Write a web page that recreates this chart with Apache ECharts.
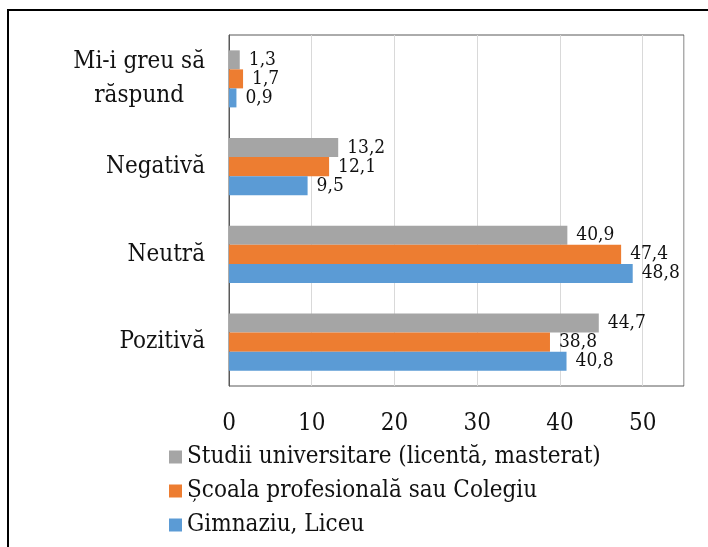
<!DOCTYPE html>
<html>
<head>
    <meta charset="UTF-8">
    <title>Atitudine</title>
    <script src="https://cdn.jsdelivr.net/npm/echarts@6/dist/echarts.min.js"></script>
    <style>
        html, body { margin: 0; padding: 0; background: #fff; }
        #main { width: 708px; height: 547px; }
    </style>
</head>
<body>
<div id="main"></div>
<script>
    // date
    var categories = ['Pozitivă', 'Neutră', 'Negativă', 'Mi-i greu să\nrăspund'];
    var seriesNames = ['Gimnaziu, Liceu', 'Școala profesională sau Colegiu', 'Studii universitare (licentă, masterat)'];
    var gimnaziu = [40.8, 48.8, 9.5, 0.9];
    var scoala = [38.8, 47.4, 12.1, 1.7];
    var studii = [44.7, 40.9, 13.2, 1.3];
    var colors = ['#5B9BD5', '#ED7D31', '#A5A5A5'];

    var font = '"DejaVu Serif Condensed", "DejaVu Serif", serif';
    var myChart = echarts.init(document.getElementById('main'));

    function mkSeries(name, data, color) {
        return {
            name: name,
            type: 'bar',
            data: data,
            barGap: '0%',
            barCategoryGap: '35%',
            itemStyle: { color: color },
            label: {
                show: true,
                position: 'right',
                distance: 9,
                color: '#111',
                fontFamily: font,
                fontSize: 19,
                formatter: function (p) { return String(p.value).replace('.', ','); }
            }
        };
    }

    var option = {
        animation: false,
        textStyle: { fontFamily: font },
        graphic: [{
            type: 'rect',
            shape: { x: 8, y: 10, width: 800, height: 700 },
            style: { fill: 'none', stroke: '#000', lineWidth: 2 }
        }],
        legend: {
            orient: 'vertical',
            left: 164,
            top: 440,
            itemWidth: 13,
            itemHeight: 13,
            itemGap: 10,
            icon: 'rect',
            data: [seriesNames[2], seriesNames[1], seriesNames[0]],
            textStyle: { fontFamily: font, fontSize: 24, color: '#111' }
        },
        grid: { left: 229, top: 35, width: 455, height: 351, show: true, borderColor: '#595959', borderWidth: 1 },
        xAxis: {
            type: 'value',
            min: 0,
            max: 55,
            interval: 10,
            axisLine: { show: false },
            axisTick: { show: false },
            splitLine: { lineStyle: { color: '#d9d9d9' } },
            axisLabel: {
                showMaxLabel: false,
                margin: 26,
                color: '#111',
                fontFamily: font,
                fontSize: 24
            }
        },
        yAxis: {
            type: 'category',
            data: categories,
            axisLine: { lineStyle: { color: '#595959' } },
            axisTick: { show: false },
            axisLabel: {
                margin: 24,
                formatter: function (v) {
                    return v.split('\n').map(function (s) { return '{a|' + s + '}'; }).join('\n');
                },
                rich: {
                    a: { align: 'center', fontFamily: font, fontSize: 24, color: '#111', lineHeight: 34 }
                }
            }
        },
        // prima serie apare sus in grup
        series: [
            mkSeries(seriesNames[2], studii, colors[2]),
            mkSeries(seriesNames[1], scoala, colors[1]),
            mkSeries(seriesNames[0], gimnaziu, colors[0])
        ]
    };

    myChart.setOption(option);
</script>
</body>
</html>
